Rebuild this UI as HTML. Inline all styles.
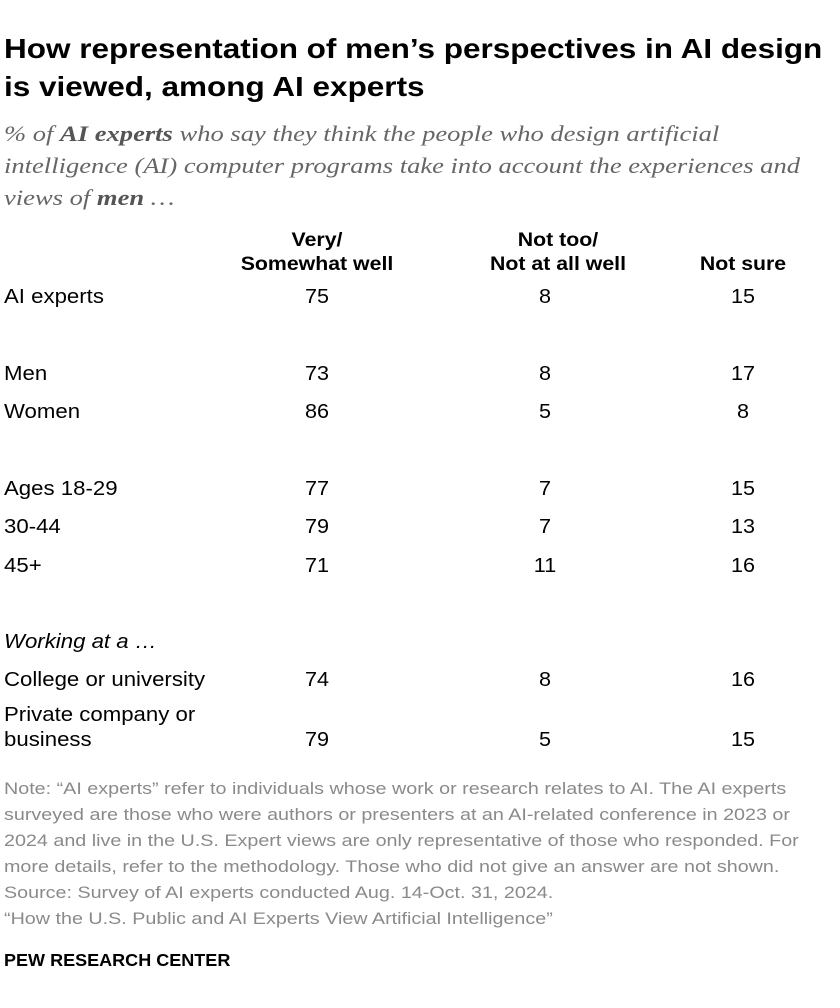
<!DOCTYPE html>
<html><head><meta charset="utf-8"><style>
body{margin:0;background:#fff;}
#root{position:relative;width:840px;height:1008px;overflow:hidden;font-family:"Liberation Sans",sans-serif;color:#000;}
.abs{position:absolute;white-space:nowrap;transform-origin:0 0;}
.title{left:4px;top:30px;font-size:27.5px;font-weight:bold;line-height:38px;color:#000;transform:scaleX(1.145);}
.sub{left:4px;top:118px;font-family:"Liberation Serif",serif;font-style:italic;font-size:22.5px;line-height:32px;color:#666;transform:scaleX(1.18);}
.sub b{color:#555;}
.hdr{font-weight:bold;font-size:19px;line-height:24px;text-align:center;width:220px;transform-origin:50% 0;transform:scaleX(1.12);}
.cell{font-size:20px;line-height:24px;transform:scaleX(1.11);}
.num{text-align:center;width:80px;transform-origin:50% 0;transform:scaleX(1.08);}
.note{left:4px;top:776px;font-size:17px;line-height:26px;color:#8a8a8a;transform:scaleX(1.16);}
.pew{left:4px;top:948px;font-size:17.5px;font-weight:bold;line-height:24px;transform:scaleX(1.03);}
</style></head><body>
<div id="root">
<div class="abs title">How representation of men’s perspectives in AI design<br>is viewed, among AI experts</div>
<div class="abs sub">% of <b>AI experts</b> who say they think the people who design artificial<br>intelligence (AI) computer programs take into account the experiences and<br>views of <b>men</b> …</div>
<div class="abs hdr" style="left:207px;top:229px">Very/<br>Somewhat well</div>
<div class="abs hdr" style="left:448px;top:229px">Not too/<br>Not at all well</div>
<div class="abs hdr" style="left:633px;top:253px">Not sure</div>
<div class="abs note">Note: “AI experts” refer to individuals whose work or research relates to AI. The AI experts<br>surveyed are those who were authors or presenters at an AI-related conference in 2023 or<br>2024 and live in the U.S. Expert views are only representative of those who responded. For<br>more details, refer to the methodology. Those who did not give an answer are not shown.<br>Source: Survey of AI experts conducted Aug. 14-Oct. 31, 2024.<br>“How the U.S. Public and AI Experts View Artificial Intelligence”</div>
<div class="abs pew">PEW RESEARCH CENTER</div>
</div>
<script>
const categories=["AI experts","Men","Women","Ages 18-29","30-44","45+","College or university","Private company or business"];
const veryWell=[75,73,86,77,79,71,74,79];
const notWell=[8,8,5,7,7,11,8,5];
const notSure=[15,17,8,15,13,16,16,15];
const rowY=[297,374,412,489,527,566,680,740];
const colX=[317,545,743];
const root=document.getElementById('root');
function add(cls,text,left,top,html){const d=document.createElement('div');d.className='abs '+cls;if(html)d.innerHTML=text;else d.textContent=text;d.style.left=left+'px';d.style.top=top+'px';root.appendChild(d);return d;}
categories.forEach((c,i)=>{
  const y=rowY[i];
  let lab;
  if(i===7){lab=add('cell','Private company or<br>business',4,y-37,true);lab.style.lineHeight='25px';}
  else lab=add('cell',c,4,y-12);
  
  
  [veryWell[i],notWell[i],notSure[i]].forEach((v,j)=>{
    const n=add('cell num',String(v),colX[j]-40,y-12);
    
    
  });
});
const w=add('cell','Working at a …',4,630);
w.style.fontStyle='italic';


</script>
</body></html>
